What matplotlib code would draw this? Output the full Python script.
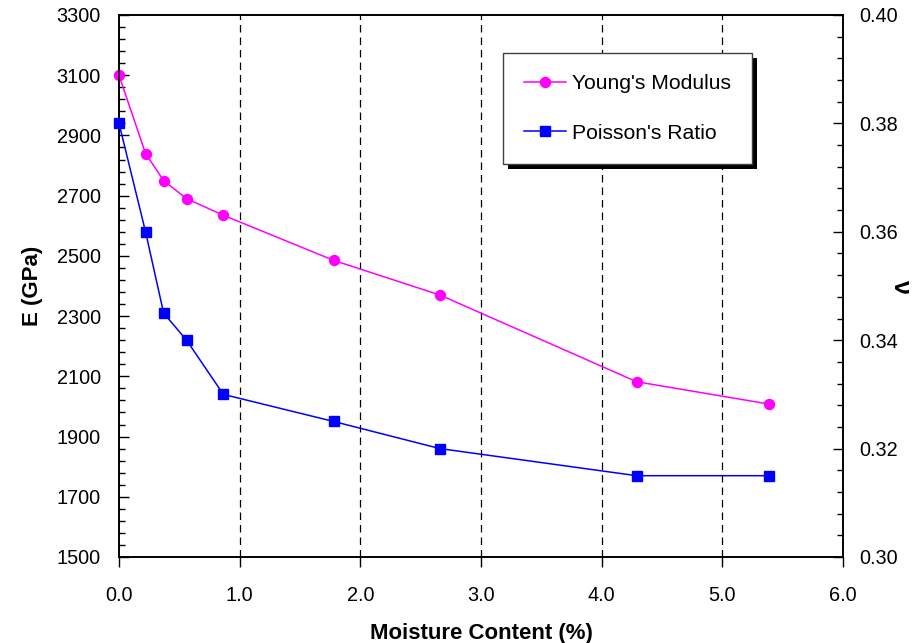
import matplotlib
matplotlib.use("Agg")
import numpy as np
import matplotlib.pyplot as plt
from matplotlib.ticker import MultipleLocator, FixedLocator, FormatStrFormatter
from matplotlib.patches import Rectangle

plt.rcParams['font.family'] = ['Liberation Sans', 'DejaVu Sans']

moisture = [0.0, 0.22, 0.37, 0.56, 0.865, 1.78, 2.66, 4.29, 5.385]
youngs = [3100, 2840, 2750, 2690, 2635, 2485, 2370, 2082, 2008]
poisson = [0.380, 0.360, 0.345, 0.340, 0.330, 0.325, 0.320, 0.315, 0.315]

fig = plt.figure(figsize=(9.18, 6.43), dpi=100)
W, H = 918, 643
L, R, T, B = 119, 843, 15, 557
ax = fig.add_axes([L / W, 1 - B / H, (R - L) / W, (B - T) / H])
ax2 = ax.twinx()

l1, = ax.plot(moisture, youngs, color='#FF00FF', lw=1.1, marker='o', ms=7.2,
              label="Young's Modulus", clip_on=False, zorder=5)
l2, = ax2.plot(moisture, poisson, color='#0000FF', lw=1.1, marker='s', ms=6.6,
               label="Poisson's Ratio", clip_on=False, zorder=5)

ax.set_xlim(0, 6)
ax.set_ylim(1500, 3300)
ax2.set_ylim(0.30, 0.40)

ax.xaxis.set_major_locator(MultipleLocator(1.0))
ax.xaxis.set_major_formatter(FormatStrFormatter('%.1f'))
ax.yaxis.set_major_locator(FixedLocator(np.arange(1500, 3301, 200)))
ax.yaxis.set_minor_locator(FixedLocator(np.arange(1500, 3301, 40)))
ax2.yaxis.set_major_locator(FixedLocator(np.linspace(0.30, 0.40, 6)))
ax2.yaxis.set_minor_locator(FixedLocator(np.linspace(0.30, 0.40, 26)))
ax2.yaxis.set_major_formatter(FormatStrFormatter('%.2f'))

for x in [1, 2, 3, 4, 5]:
    ax.axvline(x, color='black', lw=0.9, ls=(0, (6, 4)), zorder=1)

ax.tick_params(axis='x', direction='out', length=7, width=1, labelsize=14.3, pad=14)
ax.tick_params(axis='y', which='major', direction='in', length=7, width=1, labelsize=14.3, pad=13)
ax.tick_params(axis='y', which='minor', direction='in', length=4, width=1)
ax2.tick_params(axis='y', which='major', direction='in', length=7, width=1, labelsize=14.3, pad=11.5)
ax2.tick_params(axis='y', which='minor', direction='in', length=4, width=1)

for a in (ax, ax2):
    for s in a.spines.values():
        s.set_linewidth(1.2)

ax.set_xlabel('Moisture Content (%)', fontsize=16, fontweight='bold', labelpad=13)
ax.set_ylabel('E (GPa)', fontsize=16, fontweight='bold', labelpad=10)
fig.text(901 / W, 1 - 287 / H, 'ν', fontsize=18, fontweight='bold', rotation=270,
         ha='center', va='center')

leg = ax2.legend(handles=[l1, l2], loc='upper left', bbox_to_anchor=(0.530, 0.930),
                 borderaxespad=0, fontsize=15.2, labelspacing=1.45, borderpad=1.0,
                 handlelength=2.0, handletextpad=0.3, fancybox=False,
                 edgecolor='#404040', framealpha=1, shadow=False)
leg.get_frame().set_linewidth(1.0)
leg.set_zorder(6)

fig.canvas.draw()
bb = leg.get_window_extent()
shadow = Rectangle((bb.x0 + 5, bb.y0 - 5), bb.width, bb.height, transform=None,
                   facecolor='black', edgecolor='none', zorder=5.9)
ax2.add_artist(shadow)

fig.savefig('out.png', dpi=100)
